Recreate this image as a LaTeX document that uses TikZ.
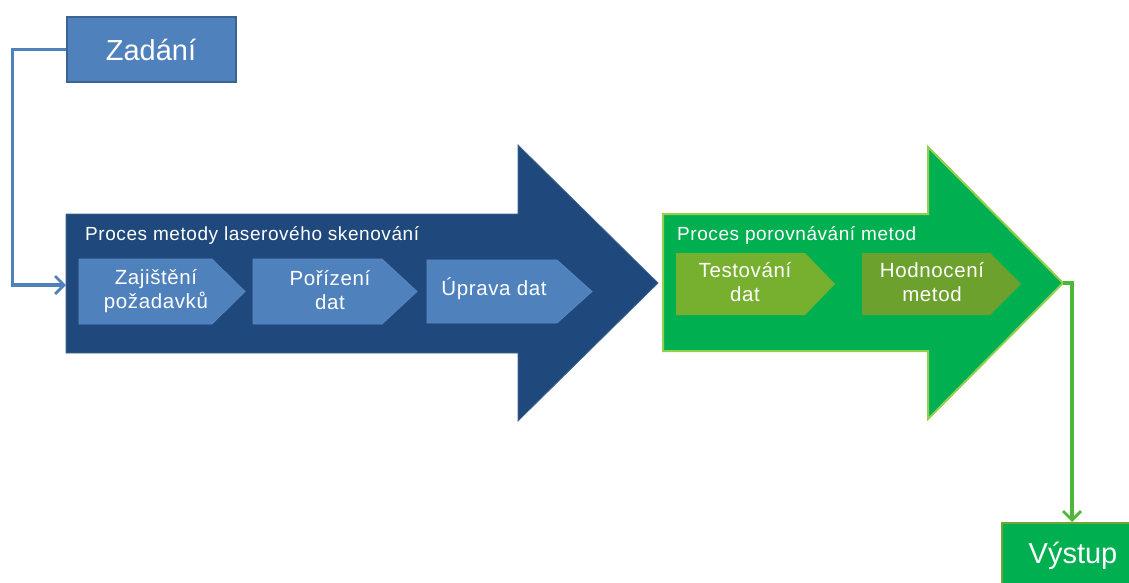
\documentclass[tikz,border=0pt]{standalone}
\usepackage{fontspec}
\setmainfont{Liberation Sans}
\newfontfamily\tracked[LetterSpace=3]{Liberation Sans}
\usetikzlibrary{arrows.meta}
\definecolor{navy}{HTML}{1F497D}
\definecolor{midblue}{HTML}{4F81BD}
\definecolor{blueedge}{HTML}{3A6494}
\definecolor{chevedge}{HTML}{5A88C0}
\definecolor{officegreen}{HTML}{00B050}
\definecolor{limeedge}{HTML}{92D050}
\definecolor{olive1}{HTML}{77B02F}
\definecolor{olive2}{HTML}{6CA12E}
\definecolor{greenline}{HTML}{4DB838}
\definecolor{greenedge}{HTML}{6FA534}
\tikzset{
  bigblue/.style={fill=navy,draw=navy!85!white,line width=0.8pt},
  biggreen/.style={fill=officegreen,draw=limeedge,line width=2pt},
  bluechev/.style={fill=midblue,draw=chevedge,line width=0.8pt},
  greenchev/.style={draw=none},
  chevtext/.style={text=white,font=\tracked\fontsize{20.5}{24}\selectfont,align=center,inner sep=0pt},
  headline/.style={text=white,font=\tracked\fontsize{19}{22}\selectfont,anchor=base west,inner sep=0pt},
  bluelink/.style={draw=midblue,line width=3.4pt,-{Straight Barb[length=9pt,width=18pt,line width=2.8pt]}},
  greenlink/.style={draw=greenline,line width=3.2pt,-{Straight Barb[length=9pt,width=18pt,line width=2.8pt]}}
}
% chevron: #1 style, left, top, right, bottom, depth of point
\newcommand{\chevron}[6]{%
  \path[#1] (#2,#3) -- (#4-#6,#3) -- (#4,{(#3+#5)/2}) -- (#4-#6,#5) -- (#2,#5) -- cycle;}
\begin{document}
\begin{tikzpicture}[x=1pt,y=-1pt]
\useasboundingbox (0,0) rectangle (1129,583);

% large process arrows
\path[bigblue] (66,214) -- (518,214) -- (518,145) -- (658,283) -- (518,421) -- (518,353) -- (66,353) -- cycle;
\path[biggreen] (663,214) -- (928,214) -- (928,147) -- (1063,283) -- (928,419) -- (928,351) -- (663,351) -- cycle;
\coordinate (blueIn) at (66,285);
\coordinate (greenTip) at (1063,283);

\node[headline] (t1) at (85,240) {Proces metody laserového skenování};
\node[headline] (t2) at (677,240) {Proces porovnávání metod};

% steps of the scanning process
\chevron{bluechev}{79}{259}{245}{324}{33}
\chevron{bluechev}{253}{259}{417}{324}{35}
\chevron{bluechev}{427}{260}{592}{323}{35}
\node[chevtext] (s1) at (156,291) {Zajištění\\požadavků};
\node[chevtext] (s2) at (330,290) {Pořízení\\dat};
\node[chevtext] (s3) at (494,289) {Úprava dat};

% steps of the comparison process
\chevron{greenchev,fill=olive1}{676}{253}{835}{315}{30}
\chevron{greenchev,fill=olive2}{862}{253}{1021}{315}{31}
\node[chevtext] (s4) at (745,282) {Testování\\dat};
\node[chevtext] (s5) at (932,282) {Hodnocení\\metod};

% input and output boxes
\node[fill=midblue,draw=blueedge,line width=2pt,minimum width=169pt,minimum height=65pt,
      text=white,font=\fontsize{29}{34}\selectfont,inner sep=0pt] (zad) at (151,49.5) {Zadání};
\node[fill=officegreen,draw=greenedge,line width=2pt,minimum width=140pt,minimum height=70pt,
      anchor=north west,inner sep=0pt] (vys) at (1001,522) {};
\node[text=white,font=\fontsize{29}{33}\selectfont,anchor=base,inner sep=0pt] (vyslabel) at (1073,563) {Výstup};

% connectors
\draw[bluelink] (zad.west) -- ++(-53,0) |- (blueIn);
\draw[greenlink] (greenTip) -| (vys.north -| 1072,0);
\end{tikzpicture}
\end{document}
